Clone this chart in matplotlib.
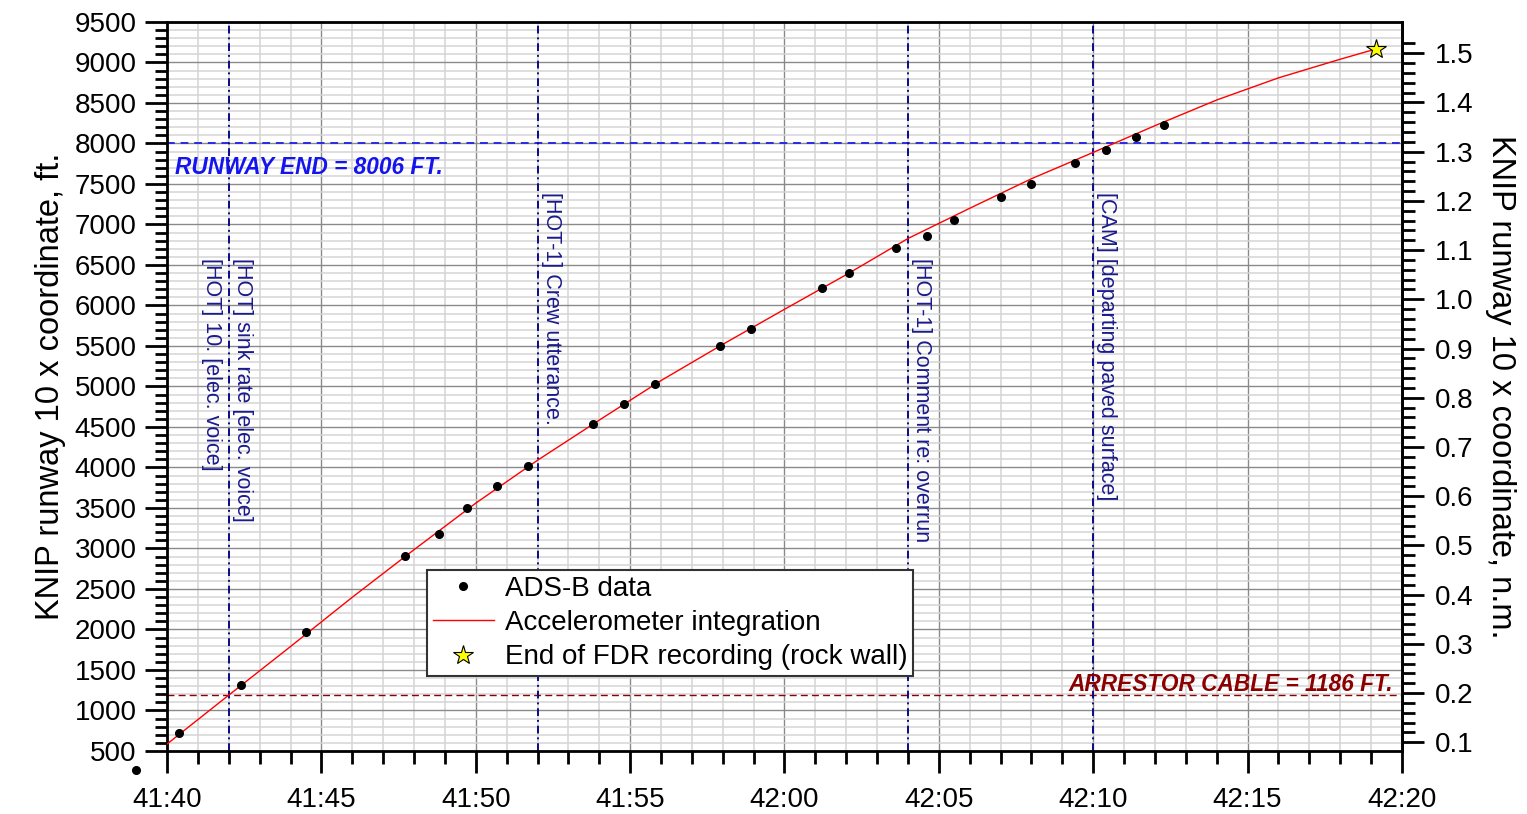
import matplotlib
matplotlib.use("Agg")
import matplotlib.pyplot as plt
from matplotlib.ticker import MultipleLocator, FuncFormatter, FixedLocator
import numpy as np

plt.rcParams['font.family'] = ['Liberation Sans', 'DejaVu Sans']

# times are seconds after 41:00
adsb_t = [39.0, 40.4, 42.4, 44.5, 47.7, 48.8, 49.7, 50.7, 51.7, 53.8, 54.8, 55.8,
          57.9, 58.9, 61.2, 62.1, 63.6, 64.6, 65.5, 67.0, 68.0, 69.4, 70.4, 71.4, 72.3]
adsb_ft = [265, 722, 1315, 1969, 2907, 3179, 3500, 3772, 4019, 4537, 4784, 5031,
           5500, 5710, 6216, 6401, 6710, 6858, 7056, 7340, 7500, 7759, 7920, 8080, 8228]

accel_t = [40, 42, 44, 46, 48, 50, 52, 54, 56, 58, 60, 62, 64, 66, 68, 70, 72, 74,
           76, 78, 79.16]
accel_ft = [586, 1190, 1790, 2398, 2985, 3560, 4089, 4585, 5073, 5520, 5953, 6380,
            6827, 7200, 7565, 7890, 8220, 8537, 8810, 9040, 9167]

fdr_end_t = 79.16
fdr_end_ft = 9167

runway_end_ft = 8006
arrestor_ft = 1186
FT_PER_NM = 6076.1

nm_ticks = [0.1, 0.2, 0.3, 0.4, 0.5, 0.6, 0.7, 0.8, 0.9, 1.0, 1.1, 1.2, 1.3, 1.4, 1.5]

events_t = [42, 52, 64, 70]
event_texts = [
    (42, 'right', 6586, '[HOT] sink rate [elec. voice]'),
    (42, 'left', 6586, '[HOT] 10. [elec. voice]'),
    (52, 'right', 7401, '[HOT-1] Crew utterance.'),
    (64, 'right', 6586, '[HOT-1] Comment re: overrun'),
    (70, 'right', 7401, '[CAM] [departing paved surface]'),
]

fig = plt.figure(figsize=(15.27, 8.14), dpi=100)
ax = fig.add_axes([0.1094, 0.0774, 0.8087, 0.8956])

ax.set_xlim(40, 80)
ax.set_ylim(500, 9500)

# grid
ax.xaxis.set_major_locator(MultipleLocator(5))
ax.xaxis.set_minor_locator(MultipleLocator(1))
ax.yaxis.set_major_locator(MultipleLocator(500))
ax.yaxis.set_minor_locator(MultipleLocator(100))
ax.grid(which='major', color='#8a8a8a', lw=1.0, zorder=0)
ax.grid(which='minor', color='#d4d4d4', lw=1.1, zorder=0)
ax.set_axisbelow(True)

ax.xaxis.set_major_formatter(FuncFormatter(lambda s, p: f"{41 + int(s) // 60}:{int(s) % 60:02d}"))

ax.tick_params(which='major', direction='out', length=16, width=2, labelsize=20)
ax.tick_params(which='minor', direction='out', length=9, width=2)
ax.tick_params(axis='x', which='major', pad=10)
ax.tick_params(axis='y', which='major', pad=6)
for sp in ax.spines.values():
    sp.set_linewidth(2)

# reference lines
ax.axhline(runway_end_ft, color='#2a2ae6', ls=(0, (4, 3)), lw=1.4)
ax.axhline(arrestor_ft, color='#8b0000', ls=(0, (5, 3)), lw=1.0)
for t in events_t:
    ax.axvline(t, color='#0a0a8a', ls=(0, (4, 2, 1, 2)), lw=1.4)

ax.text(40.26, 7698, 'RUNWAY END = 8006 FT.', color='#1414ee', fontsize=16.3,
        fontweight='bold', fontstyle='italic', va='center', ha='left')
ax.text(79.7, 1327, 'ARRESTOR CABLE = 1186 FT.', color='#8b0000', fontsize=16.3,
        fontweight='bold', fontstyle='italic', va='center', ha='right')

for t, side, y, s in event_texts:
    if side == 'right':
        ax.text(t + 0.1, y, s, rotation=270, ha='left', va='top', color='#1a1a8c',
                fontsize=15.5)
    else:
        ax.text(t - 0.22, y, s, rotation=270, ha='right', va='top', color='#1a1a8c',
                fontsize=15.5)

# data
ax.plot(adsb_t, adsb_ft, 'o', color='black', ms=5.5, clip_on=False, zorder=5,
        label='ADS-B data')
ax.plot(accel_t, accel_ft, '-', color='red', lw=1.0, zorder=4,
        label='Accelerometer integration')
ax.plot([fdr_end_t], [fdr_end_ft], '*', color='yellow', mec='black', mew=0.8, ms=15,
        zorder=6, label='End of FDR recording (rock wall)')

ax.set_ylabel('KNIP runway 10 x coordinate, ft.', fontsize=23.5, labelpad=6)

leg = ax.legend(loc='upper left', bbox_to_anchor=(0.2105, 0.248), borderaxespad=0,
                fontsize=20, frameon=True, fancybox=False, framealpha=1,
                edgecolor='#333333', handlelength=2.2, handletextpad=0.4,
                labelspacing=0.3, borderpad=0.2)
leg.get_frame().set_linewidth(1.5)

# right axis in nautical miles
sec = ax.secondary_yaxis('right', functions=(lambda f: f / FT_PER_NM,
                                               lambda n: n * FT_PER_NM))
sec.yaxis.set_major_locator(FixedLocator(nm_ticks))
sec.yaxis.set_minor_locator(FixedLocator(np.arange(0.08, 1.53, 0.02)))
sec.yaxis.set_major_formatter(FuncFormatter(lambda v, p: f"{v:.1f}"))
sec.tick_params(which='major', direction='out', length=16, width=2, labelsize=20, pad=8)
sec.tick_params(which='minor', direction='out', length=9, width=2)
sec.spines['right'].set_linewidth(2)
sec.set_ylabel('KNIP runway 10 x coordinate, n.m.', fontsize=23.5, rotation=270,
               labelpad=30)

fig.savefig('out.png', dpi=100)
